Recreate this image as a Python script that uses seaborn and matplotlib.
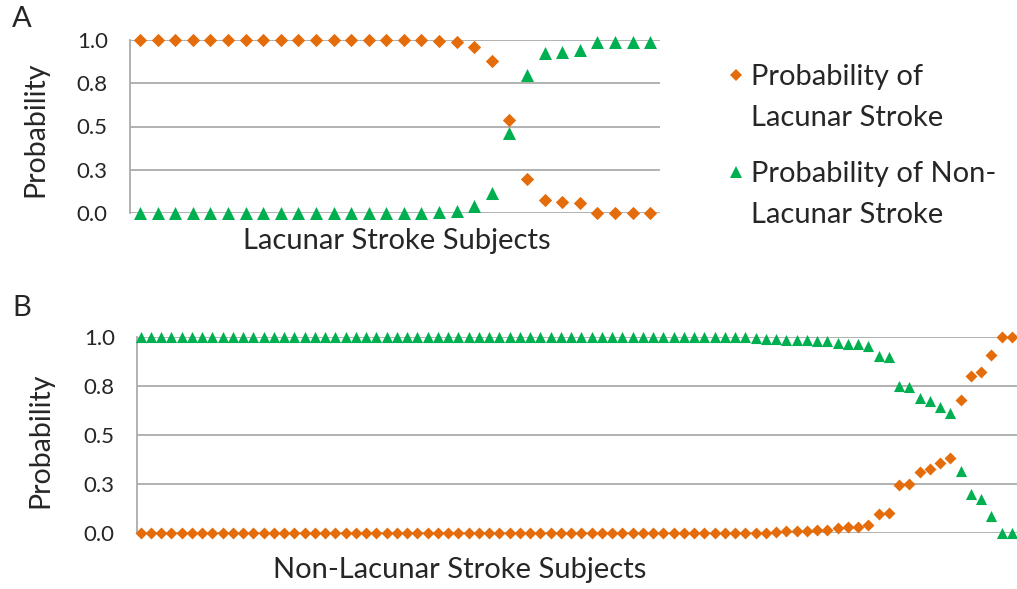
import numpy as np
import pandas as pd
import matplotlib
matplotlib.use('Agg')
import matplotlib.pyplot as plt
import seaborn as sns
from matplotlib.lines import Line2D
from matplotlib.legend_handler import HandlerLine2D

# panel A - lacunar stroke subjects (30)
a_lacunar = [1.0, 1.0, 1.0, 1.0, 1.0, 1.0, 1.0, 1.0, 1.0, 1.0,
             1.0, 1.0, 1.0, 1.0, 1.0, 1.0, 0.999, 0.995, 0.987, 0.958,
             0.88, 0.538, 0.196, 0.073, 0.063, 0.056, 0.0, 0.0, 0.0, 0.0]
a_non_lacunar = [0.0, 0.0, 0.0, 0.0, 0.0, 0.0, 0.0, 0.0, 0.0, 0.0,
                 0.0, 0.0, 0.0, 0.0, 0.0, 0.0, 0.001, 0.004, 0.012, 0.04,
                 0.115, 0.46, 0.80, 0.923, 0.93, 0.94, 0.99, 0.99, 0.99, 0.99]

# panel B - non-lacunar stroke subjects (86)
b_lacunar = [0.0, 0.0, 0.0, 0.0, 0.0, 0.0, 0.0, 0.0, 0.0, 0.0,
             0.0, 0.0, 0.0, 0.0, 0.0, 0.0, 0.0, 0.0, 0.0, 0.0,
             0.0, 0.0, 0.0, 0.0, 0.0, 0.0, 0.0, 0.0, 0.0, 0.0,
             0.0, 0.0, 0.0, 0.0, 0.0, 0.0, 0.0, 0.0, 0.0, 0.0,
             0.0, 0.0, 0.0, 0.0, 0.0, 0.0, 0.0, 0.0, 0.0, 0.0,
             0.0, 0.0, 0.0, 0.0, 0.0, 0.0, 0.0, 0.0, 0.0, 0.001,
             0.002, 0.002, 0.003, 0.008, 0.01, 0.012, 0.015, 0.017, 0.024, 0.029,
             0.029, 0.042, 0.096, 0.10, 0.245, 0.25, 0.31, 0.325, 0.355, 0.385,
             0.68, 0.80, 0.82, 0.91, 1.0, 1.0]
b_non_lacunar = [1.0, 1.0, 1.0, 1.0, 1.0, 1.0, 1.0, 1.0, 1.0, 1.0,
                 1.0, 1.0, 1.0, 1.0, 1.0, 1.0, 1.0, 1.0, 1.0, 1.0,
                 1.0, 1.0, 1.0, 1.0, 1.0, 1.0, 1.0, 1.0, 1.0, 1.0,
                 1.0, 1.0, 1.0, 1.0, 1.0, 1.0, 1.0, 1.0, 1.0, 1.0,
                 1.0, 1.0, 1.0, 1.0, 1.0, 1.0, 1.0, 1.0, 1.0, 1.0,
                 1.0, 1.0, 1.0, 1.0, 1.0, 1.0, 1.0, 1.0, 1.0, 0.998,
                 0.993, 0.99, 0.99, 0.985, 0.984, 0.983, 0.982, 0.98, 0.97, 0.966,
                 0.966, 0.953, 0.904, 0.899, 0.75, 0.747, 0.69, 0.676, 0.642, 0.61,
                 0.316, 0.198, 0.176, 0.088, 0.0, 0.0]

y_ticks = [0.0, 0.25, 0.5, 0.75, 1.0]
y_ticklabels = ['0.0', '0.3', '0.5', '0.8', '1.0']
legend_labels = ['Probability of\nLacunar Stroke', 'Probability of Non-\nLacunar Stroke']

ORANGE = '#E46C0A'
GREEN = '#00B050'
GRID = '#ABABAB'
FS = 21

sns.set_style('white')
plt.rcParams['font.family'] = ['Lato', 'DejaVu Sans']

fig = plt.figure(figsize=(10.17, 5.89), dpi=100)
ax_a = fig.add_axes([130 / 1017, 1 - 213 / 589, 530 / 1017, 173 / 589])
ax_b = fig.add_axes([137 / 1017, 1 - 533 / 589, 880 / 1017, 196 / 589])


def draw_panel(ax, lac, non, s_d, s_t, xlim):
    x = np.arange(len(lac))
    sns.scatterplot(x=x, y=lac, ax=ax, marker='D', color=ORANGE, s=s_d,
                    linewidth=0, clip_on=False, zorder=3)
    sns.scatterplot(x=x, y=non, ax=ax, marker='^', color=GREEN, s=s_t,
                    linewidth=0, clip_on=False, zorder=4)
    ax.set_xlim(*xlim)
    ax.set_ylim(0, 1)
    ax.set_yticks(y_ticks)
    ax.set_yticklabels(y_ticklabels, fontsize=16)
    ax.set_xticks(x[:-1] + 0.5)
    ax.set_xticklabels([])
    ax.tick_params(axis='x', length=3, direction='inout', color='#D0D0D0', width=1)
    ax.tick_params(axis='y', length=6, direction='out', color=GRID, width=1.3, pad=10)
    ax.grid(axis='y', color=GRID, linewidth=1.3)
    ax.set_axisbelow(True)
    for side in ['top', 'right', 'bottom']:
        ax.spines[side].set_visible(False)
    ax.spines['left'].set_color(GRID)
    ax.spines['left'].set_linewidth(1.3)


draw_panel(ax_a, a_lacunar, a_non_lacunar, 46, 88, (-0.57, 29.56))
draw_panel(ax_b, b_lacunar, b_non_lacunar, 37, 64, (-0.36, 85.5))

ax_a.set_xlabel('Lacunar Stroke Subjects', fontsize=FS, va='center')
ax_a.xaxis.set_label_coords(0.504, -0.162)
ax_a.set_ylabel('Probability', fontsize=20.5, va='center', ha='center')
ax_a.yaxis.set_label_coords(-0.179, 0.486)

ax_b.set_xlabel('Non-Lacunar Stroke Subjects', fontsize=FS, va='center')
ax_b.xaxis.set_label_coords(0.367, -0.189)
ax_b.set_ylabel('Probability', fontsize=20.5, va='center', ha='center')
ax_b.yaxis.set_label_coords(-0.110, 0.474)

fig.text(12 / 1017, 1 - 19 / 589, 'A', fontsize=FS, va='center', ha='left')
fig.text(12 / 1017, 1 - 308 / 589, 'B', fontsize=FS, va='center', ha='left')


class FirstLineHandler(HandlerLine2D):
    # put the marker next to the first line of a two-line label
    def __init__(self, shift, **kw):
        super().__init__(**kw)
        self.shift = shift

    def create_artists(self, legend, orig_handle, xdescent, ydescent,
                       width, height, fontsize, trans):
        arts = super().create_artists(legend, orig_handle, xdescent, ydescent,
                                      width, height, fontsize, trans)
        for a in arts:
            a.set_ydata(np.asarray(a.get_ydata()) + self.shift)
        return arts


handles = [Line2D([], [], marker='D', color=ORANGE, linestyle='', markersize=6, markeredgewidth=0),
           Line2D([], [], marker='^', color=GREEN, linestyle='', markersize=8, markeredgewidth=0)]
leg = fig.legend(handles, legend_labels, loc='upper left',
                 bbox_to_anchor=(701 / 1017, 1 - 38 / 589), frameon=False,
                 fontsize=FS, handlelength=0.6, handletextpad=0.22,
                 labelspacing=1.03,
                 handler_map={Line2D: FirstLineHandler(16.2)})
for t in leg.get_texts():
    t.set_linespacing(1.70)

fig.savefig('out.png', dpi=100)
